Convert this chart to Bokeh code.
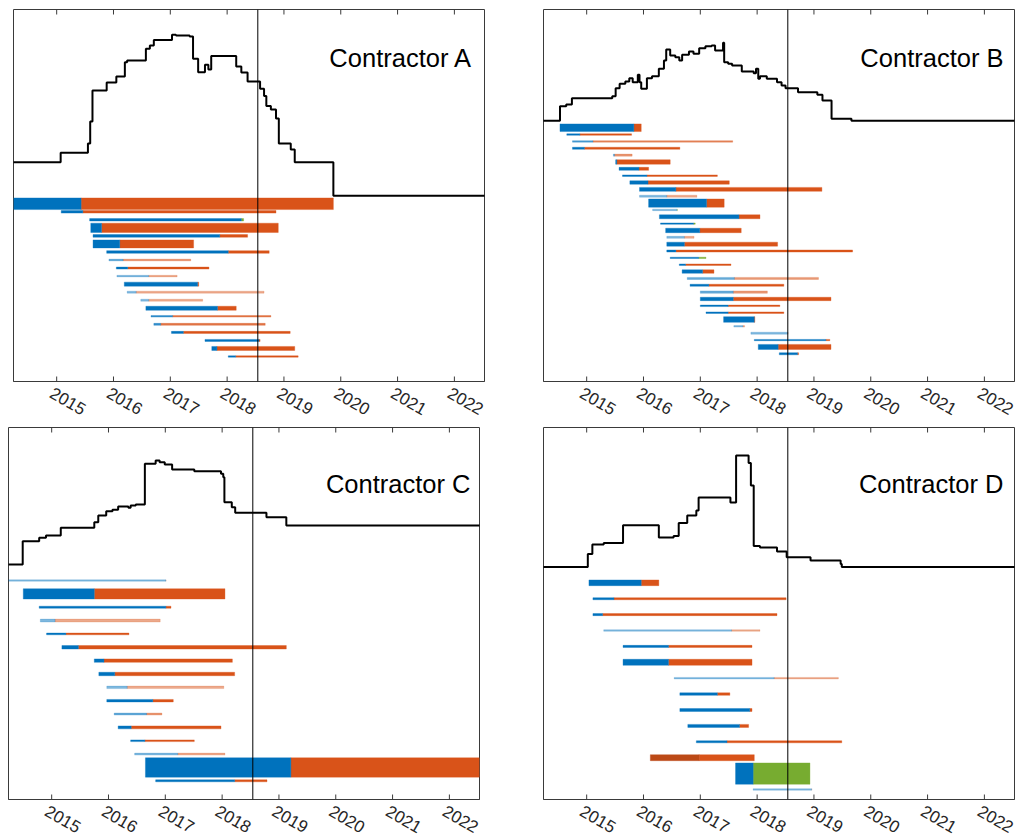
import numpy as np
from bokeh.plotting import figure
from bokeh.models import (Range1d, FixedTicker, Span, Label, ColumnDataSource,
                          CustomJSTickFormatter)
from bokeh.layouts import column, row
from bokeh.embed import file_html
from bokeh.resources import INLINE

# ---------------------------------------------------------------- shared data
years = [2015, 2016, 2017, 2018, 2019, 2020, 2021, 2022]
x_lo, x_hi = 2014.24, 2022.53
today = 2018.54

# ---------------------------------------------------------------- Contractor A
a_level_x = [2014.0, 2015.07, 2015.55, 2015.59, 2015.63, 2015.88, 2016.05, 2016.20, 2016.24,
             2016.57, 2016.64, 2016.71, 2017.03, 2017.10, 2017.34, 2017.40, 2017.49, 2017.61,
             2017.67, 2017.72, 2018.16, 2018.25, 2018.36, 2018.58, 2018.65, 2018.69, 2018.77,
             2018.86, 2018.91, 2019.12, 2019.19, 2019.87, 2022.6]
a_level_y = [4.15, 5.34, 6.49, 9.23, 13.08, 14.08, 14.83, 16.60, 16.82,
             18.27, 18.68, 19.37, 20.02, 19.93, 19.80, 17.03, 15.36, 16.28,
             15.70, 17.38, 16.07, 15.32, 14.20, 13.30, 12.40, 11.16, 10.72,
             9.60, 6.49, 5.75, 4.15, 0.0, 0.0]
a_start = [2014.0, 2015.08, 2015.58, 2015.60, 2015.64, 2015.64, 2015.88, 2015.92, 2016.05, 2016.06,
           2016.19, 2016.24, 2016.48, 2016.57, 2016.66, 2016.71, 2017.02, 2017.61, 2017.73, 2018.02]
a_switch = [2015.43, 2015.46, 2018.25, 2015.79, 2017.87, 2016.11, 2018.02, 2016.17, 2016.25, 2016.62,
            2017.48, 2016.40, 2016.62, 2017.83, 2017.04, 2016.83, 2017.23, 2018.56, 2017.82, 2018.15]
a_end = [2019.87, 2018.86, 2018.29, 2018.90, 2018.36, 2017.41, 2018.74, 2017.36, 2017.68, 2017.12,
         2017.50, 2018.65, 2017.57, 2018.16, 2018.77, 2018.67, 2019.11, 2018.58, 2019.19, 2019.25]
a_weight = [1.45, 0.33, 0.30, 1.16, 0.33, 1.0, 0.33, 0.20, 0.25, 0.20,
            0.50, 0.25, 0.25, 0.50, 0.20, 0.25, 0.25, 0.25, 0.50, 0.17]
a_firm = [1, 1, 1, 1, 1, 1, 1, 0.7, 1, 0.5, 1, 0.5, 0.5, 1, 0.8, 0.8, 1, 1, 1, 1]
a_tail = ["o", "o", "g", "o", "o", "o", "o", "o", "o", "o",
          "o", "o", "o", "o", "o", "o", "o", "o", "o", "o"]

# ---------------------------------------------------------------- Contractor B
b_level_x = [2014.0, 2014.53, 2014.64, 2014.74, 2015.45, 2015.51, 2015.58, 2015.68, 2015.75,
             2015.81, 2015.90, 2015.93, 2015.96, 2016.06, 2016.15, 2016.27, 2016.36, 2016.40,
             2016.47, 2016.56, 2016.63, 2016.68, 2016.80, 2016.88, 2016.98, 2017.09, 2017.20,
             2017.26, 2017.40, 2017.42, 2017.49, 2017.56, 2017.73, 2017.94, 2017.98, 2018.02,
             2018.05, 2018.17, 2018.35, 2018.43, 2018.50, 2018.72, 2019.06, 2019.15, 2019.31,
             2019.66, 2022.6]
b_level_y = [0.0, 2.14, 2.39, 3.31, 3.60, 4.77, 5.41, 5.74, 6.23,
             5.64, 6.72, 5.64, 4.68, 6.23, 6.52, 7.60, 8.81, 10.42,
             9.54, 9.29, 8.81, 9.64, 10.12, 9.79, 10.61, 10.90, 11.00,
             10.27, 11.39, 8.56, 8.33, 8.08, 7.20, 6.96, 7.60, 6.14,
             6.52, 6.14, 5.64, 5.16, 4.77, 4.18, 3.80, 2.97, 0.30,
             0.0, 0.0]
b_start = [2014.53, 2014.65, 2014.75, 2014.75, 2015.47, 2015.51, 2015.57, 2015.63, 2015.76, 2015.93,
           2015.93, 2016.09, 2016.16, 2016.28, 2016.30, 2016.39, 2016.41, 2016.41, 2016.41, 2016.47,
           2016.63, 2016.68, 2016.77, 2016.82, 2017.00, 2017.00, 2017.00, 2017.10, 2017.41, 2017.59,
           2017.89, 2017.95, 2018.02, 2018.39]
b_switch = [2015.83, 2014.88, 2015.11, 2014.96, 2015.49, 2015.53, 2015.92, 2016.06, 2016.08, 2016.57,
            2016.41, 2017.11, 2016.59, 2017.68, 2016.88, 2016.99, 2016.72, 2016.72, 2016.57, 2016.97,
            2016.74, 2017.04, 2017.60, 2017.15, 2017.58, 2017.58, 2017.49, 2017.49, 2017.95, 2017.75,
            2018.54, 2019.21, 2018.37, 2018.71]
b_end = [2015.96, 2015.79, 2017.57, 2016.64, 2015.80, 2016.47, 2016.09, 2017.30, 2017.51, 2019.14,
         2016.94, 2017.42, 2016.60, 2018.05, 2016.91, 2017.72, 2016.89, 2018.36, 2019.68, 2017.10,
         2017.54, 2017.24, 2019.08, 2018.47, 2018.18, 2019.30, 2018.40, 2018.47, 2017.96, 2017.78,
         2018.54, 2019.28, 2019.30, 2018.73]
b_weight = [1.12, 0.22, 0.22, 0.30, 0.30, 0.65, 0.44, 0.22, 0.50, 0.58,
            0.30, 1.20, 0.22, 0.58, 0.19, 0.65, 0.30, 0.58, 0.30, 0.19,
            0.22, 0.50, 0.30, 0.30, 0.36, 0.50, 0.22, 0.22, 0.83, 0.22,
            0.30, 0.19, 0.73, 0.30]
b_firm = [1, 1, 0.7, 1, 0.6, 1, 1, 1, 1, 1,
          0.5, 1, 0.5, 1, 1, 1, 0.5, 1, 1, 1,
          1, 1, 0.6, 1, 0.6, 1, 1, 1, 1, 0.5,
          0.5, 1, 1, 1]
b_tail = ["o", "o", "o", "o", "o", "o", "o", "o", "o", "o",
          "o", "o", "g", "o", "g", "o", "o", "o", "o", "g",
          "o", "o", "o", "o", "o", "o", "o", "o", "o", "o",
          "o", "o", "o", "o"]

# ---------------------------------------------------------------- Contractor C
c_level_x = [2014.0, 2014.49, 2014.78, 2014.90, 2015.16, 2015.75, 2015.82, 2015.96, 2016.07,
             2016.17, 2016.35, 2016.39, 2016.48, 2016.64, 2016.83, 2016.90, 2016.99, 2017.12,
             2017.51, 2017.98, 2018.02, 2018.04, 2018.17, 2018.23, 2018.78, 2019.13, 2022.6]
c_level_y = [0.20, 1.94, 2.20, 2.37, 2.95, 3.37, 3.87, 4.19, 4.30,
             4.54, 4.45, 4.62, 4.69, 7.74, 7.99, 7.86, 7.69, 7.31,
             7.19, 6.99, 6.74, 4.87, 4.49, 4.07, 3.74, 3.12, 3.12]
c_start = [2014.0, 2014.50, 2014.78, 2014.80, 2014.91, 2015.18, 2015.75, 2015.83,
           2015.97, 2015.97, 2016.10, 2016.17, 2016.39, 2016.46, 2016.65, 2016.83]
c_switch = [2017.01, 2015.75, 2017.01, 2015.06, 2015.25, 2015.47, 2015.92, 2016.11,
            2016.33, 2016.78, 2016.67, 2016.40, 2016.64, 2017.22, 2019.21, 2018.22]
c_end = [2017.01, 2018.05, 2017.10, 2016.91, 2016.36, 2019.13, 2018.18, 2018.22,
         2018.03, 2017.14, 2016.94, 2017.98, 2017.51, 2018.05, 2022.6, 2018.79]
c_weight = [0.11, 0.77, 0.15, 0.22, 0.13, 0.26, 0.26, 0.26,
            0.19, 0.19, 0.15, 0.22, 0.13, 0.15, 1.45, 0.15]
c_firm = [0.5, 1, 1, 0.5, 1, 1, 1, 1, 0.5, 1, 0.6, 1, 1, 0.5, 1, 1]
c_tail = ["o"] * 16

# ---------------------------------------------------------------- Contractor D
d_level_x = [2014.0, 2015.02, 2015.10, 2015.30, 2015.64, 2016.27, 2016.53, 2016.62, 2016.77,
             2016.93, 2016.97, 2017.53, 2017.63, 2017.85, 2017.89, 2017.94, 2018.05, 2018.35,
             2018.52, 2018.94, 2019.47, 2019.49, 2022.6]
d_level_y = [0.0, 0.82, 1.41, 1.50, 2.62, 1.85, 1.94, 2.76, 3.23,
             3.55, 4.36, 4.05, 7.01, 6.53, 5.12, 1.31, 1.22, 0.97,
             0.61, 0.40, 0.19, 0.0, 0.0]
d_start = [2015.04, 2015.11, 2015.11, 2015.30, 2015.64, 2015.64, 2016.54,
           2016.64, 2016.64, 2016.78, 2016.93, 2016.12, 2017.62, 2017.93]
d_switch = [2015.96, 2015.48, 2015.28, 2017.55, 2016.44, 2016.44, 2018.30,
            2017.30, 2017.87, 2017.69, 2017.47, 2016.98, 2017.93, 2018.96]
d_end = [2016.27, 2018.51, 2018.35, 2018.05, 2017.91, 2017.91, 2019.43,
         2017.52, 2017.91, 2017.85, 2019.49, 2017.95, 2018.93, 2018.96]
d_weight = [0.36, 0.13, 0.13, 0.10, 0.13, 0.38, 0.10,
            0.16, 0.19, 0.19, 0.13, 0.38, 1.34, 0.10]
d_firm = [1, 1, 1, 0.5, 1, 1, 0.5, 1, 1, 1, 1, 1, 1, 0.5]
d_head = ["b", "b", "b", "b", "b", "b", "b", "b", "b", "b", "b", "r", "b", "b"]
d_tail = ["o", "o", "o", "o", "o", "o", "o", "o", "o", "o", "o", "o", "g", "o"]

# ---------------------------------------------------------------- styling
PHASE_COLOR = {"b": "#0072BD", "o": "#D95319", "g": "#77AC30", "r": "#BC4916"}
FRAME = "#3a3a3a"
TEXT = "#262626"
FONT = "Liberation Sans"
LABEL_SHIFT = 0.09   # year labels hang slightly left of their tick


def make_panel(name, lx, ly, start, switch, end, weight, firm, tail, y_lo, y_hi,
               head=None, borders=(0, 0, 0, 0), title_xy=(0, 0), standoff=10):
    left_b, right_b, top_b, bottom_b = borders
    p = figure(frame_width=471, frame_height=372,
               x_range=Range1d(x_lo, x_hi), y_range=Range1d(y_lo, y_hi),
               y_axis_location=None, output_backend="svg", toolbar_location=None,
               min_border_left=left_b, min_border_right=right_b,
               min_border_top=top_b, min_border_bottom=bottom_b,
               background_fill_color="white", border_fill_color="white")
    p.xgrid.visible = False
    p.ygrid.visible = False
    p.outline_line_color = FRAME
    p.outline_line_width = 1

    n = len(start)
    if head is None:
        head = ["b"] * n
    firm_arr = np.array(firm, dtype=float)
    src = ColumnDataSource(dict(
        y=-np.arange(1, n + 1),
        start=start, switch=switch, end=end, h=weight,
        fa=firm_arr, la=firm_arr * 0.35,
        hc=[PHASE_COLOR[k] for k in head],
        tc=[PHASE_COLOR[k] for k in tail],
    ))
    p.hbar(y="y", left="switch", right="end", height="h", source=src,
           fill_color="tc", fill_alpha="fa", line_color="tc", line_alpha="la", line_width=1)
    p.hbar(y="y", left="start", right="switch", height="h", source=src,
           fill_color="hc", fill_alpha="fa", line_color="hc", line_alpha="la", line_width=1)

    p.step(lx, ly, mode="after", line_color="black", line_width=2)
    p.add_layout(Span(location=today, dimension="height", line_color="black", line_width=1))

    # inward tick marks on the top and bottom edges (outer halves are clipped)
    for edge in (y_hi, y_lo):
        p.scatter(x=years, y=[edge] * len(years), marker="dash", angle=np.pi / 2, size=10,
                  line_color=FRAME, line_width=1)

    ax = p.xaxis[0]
    ax.ticker = FixedTicker(ticks=[yr - LABEL_SHIFT for yr in years])
    ax.formatter = CustomJSTickFormatter(
        code=f"return Math.round(tick + {LABEL_SHIFT}).toString();")
    ax.major_tick_line_color = None
    ax.minor_tick_line_color = None
    ax.major_tick_in = 0
    ax.major_tick_out = 0
    ax.axis_line_color = FRAME
    ax.major_label_orientation = -np.pi / 6
    ax.major_label_standoff = standoff
    ax.major_label_text_font = FONT
    ax.major_label_text_font_size = "17px"
    ax.major_label_text_color = TEXT

    p.add_layout(Label(x=title_xy[0], y=title_xy[1], x_units="screen", y_units="screen",
                       text=name, text_align="right", text_baseline="alphabetic",
                       text_font=FONT, text_font_size="25.5px", text_color="black"))
    return p


pa = make_panel("Contractor A", a_level_x, a_level_y, a_start, a_switch, a_end, a_weight,
                a_firm, a_tail, -23.11, 23.16, borders=(13, 30, 9, 46), title_xy=(459, 324))
pb = make_panel("Contractor B", b_level_x, b_level_y, b_start, b_switch, b_end, b_weight,
                b_firm, b_tail, -38.05, 16.26, borders=(29, 1, 9, 46), title_xy=(460, 324))
pc = make_panel("Contractor C", c_level_x, c_level_y, c_start, c_switch, c_end, c_weight,
                c_firm, c_tail, -17.40, 10.46, borders=(8, 30, 0, 41), title_xy=(462, 316))
pd = make_panel("Contractor D", d_level_x, d_level_y, d_start, d_switch, d_end, d_weight,
                d_firm, d_tail, -14.63, 8.77, head=d_head, borders=(34, 1, 0, 41),
                title_xy=(460, 316))

layout = column(row(pa, pb, spacing=0), row(pc, pd, spacing=0), spacing=0)

with open("out.html", "w") as f:
    f.write(file_html(layout, INLINE))
